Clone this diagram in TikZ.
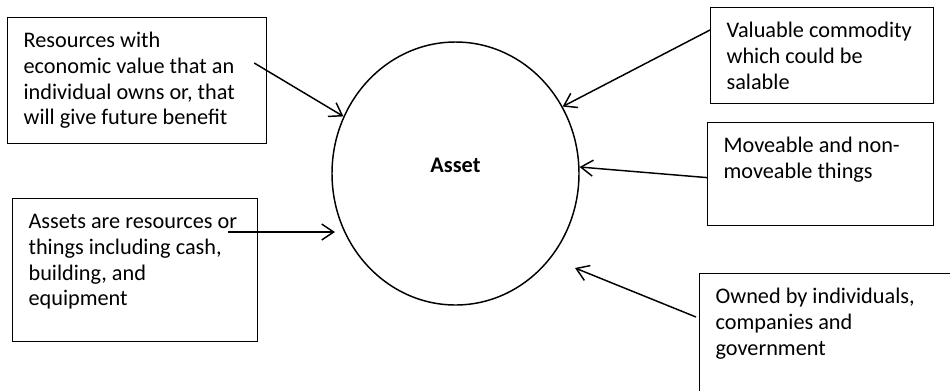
\documentclass[tikz,border=0pt]{standalone}
\usepackage{fontspec}
\setmainfont{Carlito}
\usepackage{tikz}
\usetikzlibrary{arrows.meta, shapes.geometric, calc}

\tikzset{
  infobox/.style={draw, line width=0.9pt, anchor=north west,
    inner xsep=12pt, inner ysep=9.25pt},
  feed/.style={-{Straight Barb[length=9pt,width=12pt]}, line width=1.1pt},
}

\begin{document}
\begin{tikzpicture}[x=0.75pt, y=-0.75pt,
    font=\fontsize{16.7pt}{19.2pt}\selectfont]
  % Canvas
  \useasboundingbox (0,0) rectangle (950,390);
  \clip (0,0) rectangle (950,390);
  \fill[white] (0,0) rectangle (950,390);
  % Centre
  \node[ellipse, draw, line width=1.1pt, inner sep=0pt,
        minimum width=185.25pt, minimum height=197.25pt,
        text height=12pt, text depth=14pt, font=\fontsize{16.7pt}{19.2pt}\selectfont\bfseries]
        (asset) at (455.5,173.5) {Asset};
  % Boxes
  \node[infobox] (res) at (7,17)
    {\parbox[t][76pt][t]{170.25pt}{\raggedright\strut Resources with\\
      economic value that an\\ individual owns or, that\\ will give future benefit}};
  \node[infobox] (ast) at (12,198)
    {\parbox[t][88.75pt][t]{159.75pt}{\raggedright\strut Assets are resources or\\
      things including cash,\\ building, and\\ equipment}};
  \node[infobox] (val) at (710,7)
    {\parbox[t][53.5pt][t]{143.25pt}{\raggedright\strut Valuable commodity\\
      which could be\\ salable}};
  \node[infobox] (mov) at (707,122)
    {\parbox[t][58.75pt][t]{145.5pt}{\raggedright\strut Moveable and non-\\
      moveable things}};
  \node[infobox] (own) at (699,273)
    {\parbox[t][86.5pt][t]{200pt}{\raggedright\strut Owned by individuals,\\
      companies and\\ government}};
  % Free ends
  \coordinate (res-out) at ($(res.north east)+(-13,46)$);
  \coordinate (ast-out) at ($(ast.north west)+(216,34)$);
  \coordinate (own-out) at ($(own.north west)+(-3,44)$);
  \coordinate (ast-in) at ($(asset.center)+(-120.5,58.5)$);
  \coordinate (own-in) at ($(asset.center)+(119.5,94.5)$);
  % Arrows
  \draw[feed] (res-out) -- (asset.153);
  \draw[feed] (ast-out) -- (ast-in);
  \draw[feed] ($(val.north west)+(0,23)$) -- (asset.32);
  \draw[feed] ($(mov.west)+(0,3.5)$) -- (asset.3);
  \draw[feed] (own-out) -- (own-in);
\end{tikzpicture}
\end{document}
